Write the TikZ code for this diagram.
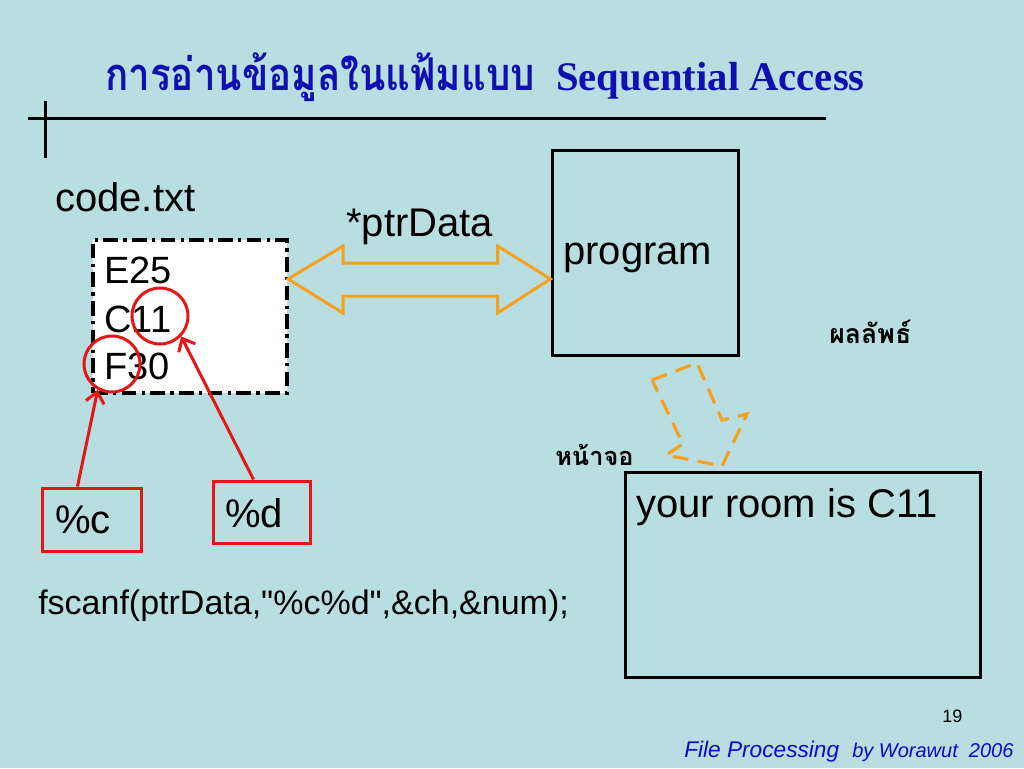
\documentclass[tikz,border=0pt]{standalone}
\usepackage{fontspec}
\setmainfont{Liberation Sans}
\newfontfamily\thaifont[Script=Thai]{Loma}
\newfontfamily\serifb{Liberation Serif}
\usetikzlibrary{arrows.meta,fit,calc}
\definecolor{bg}{RGB}{185,222,226}
\definecolor{ttl}{RGB}{16,16,176}
\definecolor{org}{RGB}{245,160,30}
\definecolor{rd}{RGB}{228,22,22}
\definecolor{ftr}{RGB}{10,10,200}
\begin{document}
\begin{tikzpicture}[x=0.75pt,y=-0.75pt,
  txt/.style={anchor=base west, inner sep=0pt, font=\fontsize{30pt}{36pt}\selectfont},
  codetxt/.style={anchor=base west, inner sep=0pt, font=\fontsize{28.5pt}{34pt}\selectfont},
  boxn/.style={draw, inner sep=0pt, line width=2.25pt},
  ring/.style={circle, draw=rd, line width=2.25pt, minimum size=42pt, inner sep=0pt},
  redarrow/.style={rd, line width=2.25pt, -{Straight Barb[length=8pt,width=14pt]}},
  thailbl/.style={anchor=base west, inner sep=0pt, font=\thaifont\bfseries\fontsize{20pt}{24pt}\selectfont}
]
\fill[bg] (0,0) rectangle (1024,768);
\useasboundingbox (0,0) rectangle (1024,768);

% title
\node[anchor=base west, inner sep=0pt, text=ttl, font=\thaifont\bfseries\fontsize{29.5pt}{36pt}\selectfont] (t1) at (105,90) {\scalebox{0.98}[1.15]{การอ่านข้อมูลในแฟ้มแบบ}};
\node[anchor=base west, inner sep=0pt, text=ttl, font=\serifb\bfseries\fontsize{30.5pt}{36pt}\selectfont] (t2) at (556,90) {Sequential Access};
\draw[line width=2.25pt] (28,118) -- (826,118);
\draw[line width=2.25pt] (45,101) -- (45,158);

% file box
\node[fit={(93,240) (287,393)}, boxn, line width=3pt, fill=white, dash pattern=on 11pt off 4pt on 2.5pt off 4pt] (code) {};
\node[txt] (fname) at (55,211) {code.txt};
\node[codetxt] (l1) at (104,283) {E25};
\node[codetxt] (l2) at (104,332) {C11};
\node[codetxt] (l3) at (104,379) {F30};

% program and screen
\node[fit={(552,150) (738,355)}, boxn] (prog) {};
\node[txt] (progt) at (563,264) {program};
\node[txt] (ptr) at (346,236) {*ptrData};
\node[fit={(625,472) (980,677)}, boxn] (scr) {};
\node[txt] (scrt) at (636,517) {your room is C11};

\node[thailbl] (res) at (829,343) {ผลลัพธ์};
\node[thailbl, font=\thaifont\bfseries\fontsize{19pt}{24pt}\selectfont] (mon) at (555,465) {หน้าจอ};

% double arrow
\coordinate (L) at (288,279);
\coordinate (R) at (prog.west |- L);
\draw[org, line width=2.25pt, line join=miter] (L) -- ++(55,-33) -- ++(0,17) -- ($(R)+(-53,-16)$) -- ++(0,-17) -- (R)
  -- ++(-53,34) -- ++(0,-17) -- ($(L)+(55,17)$) -- ++(0,17) -- cycle;

% dashed block arrow
\draw[org, line width=2.4pt, dash pattern=on 12pt off 7pt]
  (652,380) -- (697,363) -- (722,420) -- (747,414) -- (722,466) -- (666,455) -- (683,444) -- cycle;

% format boxes
\node[fit={(42,488) (141,551)}, boxn, draw=rd] (pc) {};
\node[txt] (pct) at (55,533) {\%c};
\node[fit={(213,481) (310,543)}, boxn, draw=rd] (pd) {};
\node[txt] (pdt) at (225,527) {\%d};

% rings
\node[ring] (rc) at (160,316) {};
\node[ring] (rf) at (112,364) {};
\draw[redarrow] ([xshift=-10.5pt]pc.north) -- (rf.241);
\draw[redarrow] ([xshift=-6pt]pd.north) -- (rc.-44);

\node[anchor=base west, inner sep=0pt, font=\fontsize{25.5pt}{30pt}\selectfont] (fs) at (38,614) {fscanf(ptrData,\textquotedbl\%c\%d\textquotedbl,\&ch,\&num);};

% footer
\node[anchor=base west, inner sep=0pt, font=\fontsize{13.5pt}{15pt}\selectfont] (pg) at (942,722) {19};
\node[anchor=base west, inner sep=0pt, text=ftr, font=\itshape\fontsize{17pt}{20pt}\selectfont] (f1) at (684,757) {File Processing};
\node[anchor=base west, inner sep=0pt, text=ftr, font=\itshape\fontsize{15pt}{18pt}\selectfont] (f2) at (852,757) {by Worawut\ \ 2006};
\end{tikzpicture}
\end{document}
